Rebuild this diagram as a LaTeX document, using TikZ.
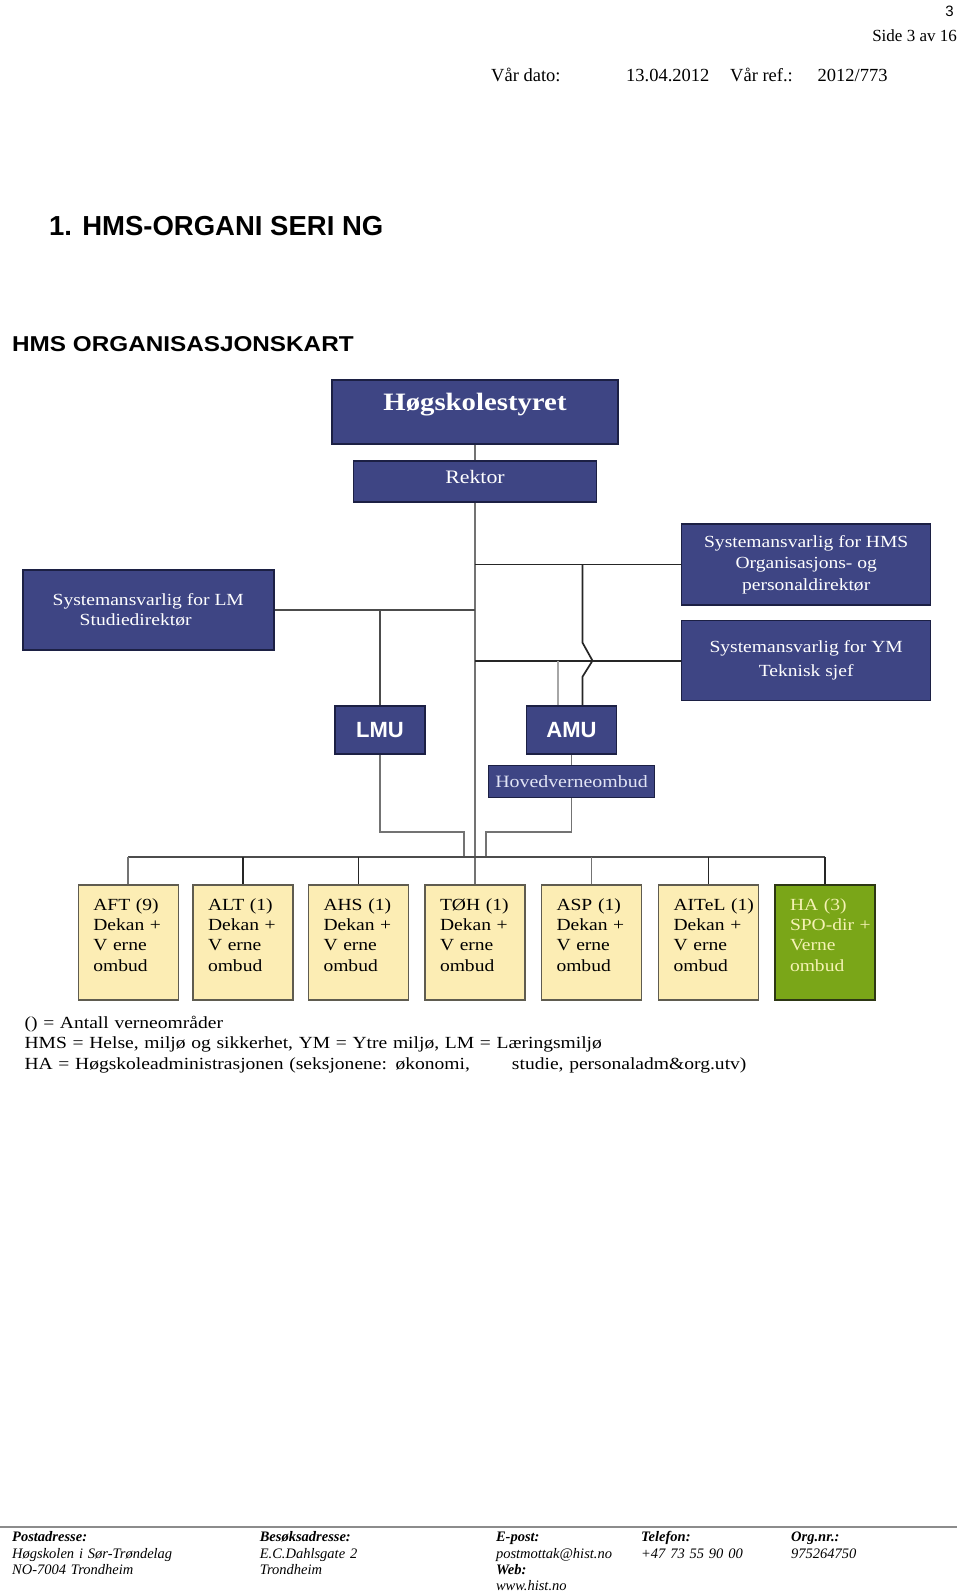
\documentclass[tikz,border=0pt]{standalone}
\usepackage{fontspec}
\setmainfont{Liberation Serif}
\newfontfamily\wserif[FakeStretch=1.15]{Liberation Serif}
\newfontfamily\wsans[FakeStretch=1.13]{Liberation Sans}
\newfontfamily\hsans{Liberation Sans}
\usetikzlibrary{calc}
\newcommand\fsz[2]{\fontsize{#1}{#2}\selectfont}
\definecolor{bfill}{RGB}{62,69,132}
\definecolor{bdraw}{RGB}{28,32,68}
\definecolor{yfill}{RGB}{252,237,180}
\definecolor{ydraw}{RGB}{95,92,80}
\definecolor{gfill}{RGB}{122,166,24}
\definecolor{gdraw}{RGB}{45,55,20}
\definecolor{gtext}{RGB}{245,242,180}
\definecolor{hovtext}{RGB}{225,228,245}
\begin{document}
\begin{tikzpicture}[x=1pt,y=-1pt,
  txt/.style={inner sep=0pt},
  bbox/.style={draw=bdraw, fill=bfill, line width=1.5pt, text=white, inner sep=0pt},
  ybox/.style={draw=ydraw, fill=yfill, line width=1.5pt, anchor=north, inner xsep=0pt, inner ysep=0pt,
     text width=100pt, align=left, text height=25.6pt, text depth=89.4pt, font=\wserif\fsz{17}{20.3}},
  gbox/.style={ybox, draw=gdraw, fill=gfill, text=gtext},
  lk/.style={draw=black!85, line width=1.7pt},
  lg/.style={draw=black!55, line width=1.9pt},
  ld/.style={draw=black!70, line width=1.8pt},
  ll/.style={draw=black!35, line width=2pt}]
\fill[white] (0,0) rectangle (960,1596);
\useasboundingbox (0,0) rectangle (960,1596);

% ---- page header ----
\node[txt, anchor=east, font=\hsans\fsz{15}{17}] (pg) at (954,11) {3};
\node[txt, anchor=east, font=\fsz{17}{20}] (side) at (957,36) {Side 3 av 16};
\node[txt, anchor=west, font=\fsz{18.5}{21}] (vd) at (491,75) {Vår dato:};
\node[txt, anchor=west, font=\fsz{18.5}{21}] (dt) at (626,75) {13.04.2012};
\node[txt, anchor=west, font=\fsz{18.5}{21}] (vr) at (730,75) {Vår ref.:};
\node[txt, anchor=west, font=\fsz{18.5}{21}] (rf) at (817.5,75) {2012/773};

\node[txt, anchor=west, font=\hsans\bfseries\fsz{27.5}{32}] (h1) at (49,226) {1. HMS-ORGANI SERI NG};
\node[txt, anchor=west, font=\wsans\bfseries\fsz{21.5}{24}] (kart) at (12,344) {HMS ORGANISASJONSKART};

% ---- blue boxes ----
\node[bbox, anchor=north, minimum width=286pt, font=\wserif\bfseries\fsz{25}{28},
      text height=30.3pt, text depth=33.7pt] (hs) at (475,379) {Høgskolestyret};
\node[bbox, anchor=north, minimum width=243pt, font=\wserif\fsz{19}{22},
      text height=23pt, text depth=18pt] (rk) at (475,460) {Rektor};
\node[bbox, minimum width=251pt, minimum height=80pt, align=left, font=\wserif\fsz{17}{20.4}]
      (lm) at (148.3,610) {Systemansvarlig for LM\\\hspace*{27pt}Studiedirektør};
\node[bbox, minimum width=249pt, minimum height=81pt, align=center, font=\wserif\fsz{17}{21.5}]
      (hms) at (806.2,564.5) {Systemansvarlig for HMS\\Organisasjons- og\\personaldirektør};
\node[bbox, minimum width=249pt, minimum height=80pt, align=center, font=\wserif\fsz{17}{24}]
      (ym) at (806.2,660.7) {Systemansvarlig for YM\\Teknisk sjef};
\node[bbox, minimum width=90pt, minimum height=48pt, font=\hsans\bfseries\fsz{22}{24}] (lmu) at (380,730) {LMU};
\node[bbox, minimum width=90pt, minimum height=48pt, font=\hsans\bfseries\fsz{22}{24}] (amu) at (571.5,730) {AMU};
\node[bbox, minimum width=165.6pt, minimum height=32pt, text=hovtext, font=\wserif\fsz{17.3}{20}] (hov) at (571.5,781.7) {Hovedverneombud};

% ---- bottom boxes ----
\node[ybox] (aft) at (128.3,884) {\leftskip=15pt\relax AFT (9)\\Dekan +\\V erne\\ombud\par};
\node[ybox] (alt) at (243,884) {\leftskip=15pt\relax ALT (1)\\Dekan +\\V erne\\ombud\par};
\node[ybox] (ahs) at (358.5,884) {\leftskip=15pt\relax AHS (1)\\Dekan +\\V erne\\ombud\par};
\node[ybox] (toh) at (475,884) {\leftskip=15pt\relax TØH (1)\\Dekan +\\V erne\\ombud\par};
\node[ybox] (asp) at (591.5,884) {\leftskip=15pt\relax ASP (1)\\Dekan +\\V erne\\ombud\par};
\node[ybox] (aitel) at (708.6,884) {\leftskip=15pt\relax AITeL (1)\\Dekan +\\V erne\\ombud\par};
\node[gbox] (ha) at (825,884) {\leftskip=15pt\relax HA (3)\\SPO-dir +\\Verne\\ombud\par};

% ---- connectors ----
\coordinate (jH) at (rk.south |- hms.west);
\coordinate (jL) at (rk.south |- lm.east);
\coordinate (jY) at (rk.south |- ym.west);
\coordinate (jB) at (475,857);
\draw[lg] (hs.south) -- (rk.north);
\draw[lg] (rk.south) -- (toh.north);
\draw[lk] (jH) -- (hms.west);
\draw[ld] (lm.east) -- (jL);
\draw[lk] (jY) -- (ym.west);
\draw[ld] (lmu.north |- lm.east) -- (lmu.north);
% line from HMS level to AMU with a jump over the YM line
\coordinate (bA) at ([xshift=11pt]amu.north);
\coordinate (bT) at (bA |- hms.west);
\coordinate (bX) at (bA |- ym.west);
\draw[lk, line join=round] (bT) -- ($(bX)+(0,-18)$) -- ($(bX)+(10,0)$) -- ($(bX)+(0,16)$) -- (bA);
\coordinate (gA) at ([xshift=-13.5pt]amu.north);
\draw[ll] (gA |- ym.west) -- (gA);
\draw[lg] (amu.south) -- (hov.north);
% LMU and Hovedverneombud down to the bus
\coordinate (lkA) at (464.3,831.7);
\coordinate (lkB) at (464.3,857);
\coordinate (hkA) at (485.7,831.7);
\coordinate (hkB) at (485.7,857);
\draw[lg] (lmu.south) |- (lkA) -- (lkB);
\draw[lg] (hov.south) |- (hkA) -- (hkB);
% bus and drops
\draw[ld] (aft.north |- jB) -- (ha.north |- jB);
\draw[lg] (aft.north |- jB) -- (aft.north);
\draw[lk] (alt.north |- jB) -- (alt.north);
\draw[lk] (ahs.north |- jB) -- (ahs.north);
\draw[lg] (asp.north |- jB) -- (asp.north);
\draw[lk] (aitel.north |- jB) -- (aitel.north);
\draw[lk] (ha.north |- jB) -- (ha.north);

% ---- legend ----
\node[txt, anchor=north west, text width=800pt, align=left, text height=12pt, font=\wserif\fsz{17}{20.5}] (leg) at (24.4,1016)
  {() = Antall verneområder\\HMS = Helse, miljø og sikkerhet, YM = Ytre miljø, LM = Læringsmiljø\\HA = Høgskoleadministrasjonen (seksjonene: økonomi,\hspace{42pt}studie, personaladm\&org.utv)};

% ---- footer ----
\draw[draw=black!45, line width=1.2pt] (0,1527) -- (957,1527);
\node[txt, anchor=north west, text width=230pt, align=left, text height=10.5pt, font=\itshape\fsz{14.5}{16.3}] (f1) at (12,1531)
  {\textbf{Postadresse:}\\Høgskolen i Sør-Trøndelag\\NO-7004 Trondheim};
\node[txt, anchor=north west, text width=220pt, align=left, text height=10.5pt, font=\itshape\fsz{14.5}{16.3}] (f2) at (259.6,1531)
  {\textbf{Besøksadresse:}\\E.C.Dahlsgate 2\\Trondheim};
\node[txt, anchor=north west, text width=140pt, align=left, text height=10.5pt, font=\itshape\fsz{14.5}{16.3}] (f3) at (495.8,1531)
  {\textbf{E-post:}\\postmottak@hist.no\\\textbf{Web:}\\www.hist.no};
\node[txt, anchor=north west, text width=140pt, align=left, text height=10.5pt, font=\itshape\fsz{14.5}{16.3}] (f4) at (641,1531)
  {\textbf{Telefon:}\\+47 73 55 90 00};
\node[txt, anchor=north west, text width=140pt, align=left, text height=10.5pt, font=\itshape\fsz{14.5}{16.3}] (f5) at (791,1531)
  {\textbf{Org.nr.:}\\975264750};
\end{tikzpicture}
\end{document}
